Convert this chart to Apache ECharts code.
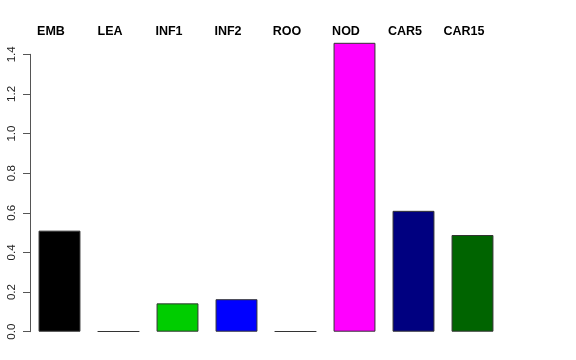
<!DOCTYPE html>
<html>
<head>
<meta charset="utf-8">
<script src="https://cdn.jsdelivr.net/npm/echarts@6/dist/echarts.min.js"></script>
<style>html,body{margin:0;padding:0;background:#fff}#c{width:576px;height:360px}</style>
</head>
<body>
<div id="c"></div>
<script>
var categories = ['EMB', 'LEA', 'INF1', 'INF2', 'ROO', 'NOD', 'CAR5', 'CAR15'];
var values = [0.51, 0.002, 0.143, 0.164, 0.002, 1.458, 0.61, 0.488];
var barColors = ['#000000', '#BEBEBE', '#00CD00', '#0000FF', '#BEBEBE', '#FF00FF', '#000080', '#006400'];
var yTicks = [0, 0.2, 0.4, 0.6, 0.8, 1.0, 1.2, 1.4];

var chart = echarts.init(document.getElementById('c'), null, {renderer: 'canvas'});
chart.setOption({
  animation: false,
  backgroundColor: '#ffffff',
  grid: {left: 30, width: 472, top: 54.3, height: 277.4},
  xAxis: {
    type: 'category',
    data: categories,
    position: 'top',
    axisLine: {show: false},
    axisTick: {show: false},
    axisLabel: {
      fontFamily: 'Liberation Sans, Arial, sans-serif',
      fontWeight: 'bold',
      fontSize: 12.5,
      color: '#000',
      margin: 16,
      padding: [0, 17, 0, 0]
    }
  },
  yAxis: {
    type: 'value',
    min: 0,
    max: 1.4,
    interval: 0.2,
    axisLine: {show: true, lineStyle: {color: '#555', width: 1}},
    axisTick: {show: true, length: 7, lineStyle: {color: '#555'}},
    splitLine: {show: false},
    axisLabel: {
      rotate: 90,
      margin: 12,
      fontFamily: 'Liberation Sans, Arial, sans-serif',
      fontSize: 11.5,
      color: '#222',
      formatter: function (v) { return v.toFixed(1); }
    }
  },
  series: [{
    type: 'bar',
    clip: false,
    barCategoryGap: '29%',
    data: values.map(function (v, i) {
      return {value: v, itemStyle: {color: barColors[i], borderColor: '#333', borderWidth: 1}};
    })
  }]
});
</script>
</body>
</html>
